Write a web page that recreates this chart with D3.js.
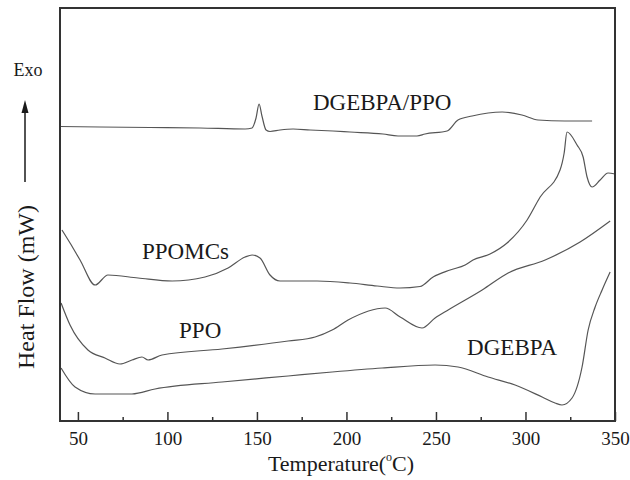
<!DOCTYPE html>
<html>
<head>
<meta charset="utf-8" />
<title>DSC curves</title>
<script src="https://cdn.jsdelivr.net/npm/d3@7/dist/d3.min.js"></script>
<style>
  body { margin: 0; background: #fff; }
</style>
</head>
<body>
<div id="chart"></div>
<script>
// temperatures (°C) and heat flow in arbitrary units (curves are offset, no y scale shown)
var blendT = [40, 62.3, 90.3, 118.2, 143.4, 147.3, 149.5, 151.2, 152.8, 155.1, 157.3, 162.9, 170.2, 179.7, 192.5, 202, 220.4, 228.8, 239.4, 243.9, 256.2, 262.3, 270.2, 287, 298, 307, 322, 337.2];
var blendV = [294.5, 294, 293.5, 293, 292, 293, 303, 317, 305, 291, 289.5, 291, 292, 291, 290, 289, 287, 285, 285, 287, 290, 301, 305, 309, 306, 301, 300, 300];

var mcT = [41.1, 45.6, 51.2, 59.6, 66.8, 83.6, 102.6, 121, 133.9, 143.4, 147.3, 151.7, 157.3, 162.9, 183.6, 202, 217.1, 229.9, 241.1, 248.4, 257.9, 266.3, 270.7, 280.2, 289.7, 300.9, 308.2, 319.3, 321.6, 323.2, 328.8, 332.2, 334.4, 337.2, 341.7, 346.1, 350];
var mcV = [191, 178, 161, 136, 146, 143, 140, 144, 153, 164, 166, 163, 146, 140, 140, 138, 135, 133, 134.5, 144, 151, 156, 161, 167, 178, 201, 224, 251, 268, 289, 276, 264, 244, 234, 241, 248, 247];

var ppoT = [40.6, 45.6, 55.6, 65.1, 73.5, 80.2, 85.8, 89.2, 97, 130.5, 167.4, 182.5, 192, 200.9, 221.6, 230, 242.2, 249.5, 256.8, 275.8, 290.3, 311, 330.5, 347.3];
var ppoV = [118, 96, 71, 63, 57, 61, 64, 61, 66, 72, 80, 84, 91, 101, 113, 104, 93, 103, 111, 131, 148, 161, 179, 200];

var epoxyT = [40.6, 48.4, 59.6, 80.2, 93.1, 130.5, 167.4, 192, 219.9, 249.5, 262.3, 279.1, 294.2, 309.3, 316.5, 320.4, 326, 331.6, 335, 338.9, 342.8, 347.3];
var epoxyV = [53, 34, 27, 27, 32, 39, 45, 49, 53, 56, 54, 44, 36, 24, 18, 16, 23, 54, 91, 114, 131, 149];

var majorTicks = [50, 100, 150, 200, 250, 300, 350];
var minorTicks = [75, 125, 175, 225, 275, 325];

var curveLabels = [
  { text: "DGEBPA/PPO", t: 181.3, v: 311 },
  { text: "PPOMCs", t: 85.8, v: 162 },
  { text: "PPO", t: 106.5, v: 83 },
  { text: "DGEBPA", t: 267.4, v: 66 }
];

var W = 630, H = 480;
var mLeft = 60, mRight = 615, mTop = 8, mBottom = 421;
var serif = "'Liberation Serif', 'Times New Roman', serif";
var ink = "#1a1a1a";

var svg = d3.select("#chart").append("svg")
  .attr("width", W)
  .attr("height", H);

var x = d3.scaleLinear().domain([40, 350]).range([mLeft, mRight]);
var y = d3.scaleLinear().domain([0, 413]).range([mBottom, mTop]);

// curves
var line = d3.line()
  .x(function (d) { return x(d[0]); })
  .y(function (d) { return y(d[1]); })
  .curve(d3.curveMonotoneX);

var series = [[blendT, blendV], [mcT, mcV], [ppoT, ppoV], [epoxyT, epoxyV]];
series.forEach(function (s) {
  svg.append("path")
    .datum(d3.zip(s[0], s[1]))
    .attr("d", line)
    .attr("fill", "none")
    .attr("stroke", "#555")
    .attr("stroke-width", 1.2);
});

// bottom axis, ticks pointing in
var xAxis = d3.axisBottom(x).tickValues(majorTicks).tickSize(-9).tickPadding(11)
  .tickFormat(d3.format("d"));
var gx = svg.append("g").attr("transform", "translate(0," + mBottom + ")").call(xAxis);
gx.attr("font-family", serif);
gx.select(".domain").remove();
gx.selectAll(".tick line").attr("stroke", "#333").attr("stroke-width", 1.5);
gx.selectAll(".tick text").attr("font-size", 19).attr("fill", ink);

var gm = svg.append("g").attr("transform", "translate(0," + mBottom + ")")
  .call(d3.axisBottom(x).tickValues(minorTicks).tickSize(-4).tickFormat(""));
gm.select(".domain").remove();
gm.selectAll(".tick line").attr("stroke", "#333").attr("stroke-width", 1.5);

// frame
svg.append("rect")
  .attr("x", mLeft).attr("y", mTop)
  .attr("width", mRight - mLeft).attr("height", mBottom - mTop)
  .attr("fill", "none")
  .attr("stroke", "#333")
  .attr("stroke-width", 2);

// curve labels
svg.selectAll(".clabel").data(curveLabels).enter().append("text")
  .attr("class", "clabel")
  .attr("x", function (d) { return x(d.t); })
  .attr("y", function (d) { return y(d.v); })
  .attr("font-family", serif)
  .attr("font-size", 23)
  .attr("fill", ink)
  .text(function (d) { return d.text; });

// axis titles
var xt = svg.append("text")
  .attr("x", 341).attr("y", 471)
  .attr("text-anchor", "middle")
  .attr("font-family", serif)
  .attr("font-size", 22)
  .attr("fill", ink);
xt.append("tspan").text("Temperature(");
xt.append("tspan").text("o").attr("font-size", 12).attr("dy", -10);
xt.append("tspan").text("C)").attr("dy", 10);

svg.append("text")
  .attr("transform", "translate(34,287) rotate(-90)")
  .attr("text-anchor", "middle")
  .attr("font-family", serif)
  .attr("font-size", 24)
  .attr("fill", ink)
  .text("Heat Flow (mW)");

svg.append("text")
  .attr("x", 28).attr("y", 76)
  .attr("text-anchor", "middle")
  .attr("font-family", serif)
  .attr("font-size", 18)
  .attr("fill", ink)
  .text("Exo");

// exo arrow
svg.append("line")
  .attr("x1", 25).attr("y1", 182).attr("x2", 25).attr("y2", 110)
  .attr("stroke", ink).attr("stroke-width", 1.5);
svg.append("path")
  .attr("d", "M25,100 L21.5,113 L28.5,113 Z")
  .attr("fill", ink);
</script>
</body>
</html>
